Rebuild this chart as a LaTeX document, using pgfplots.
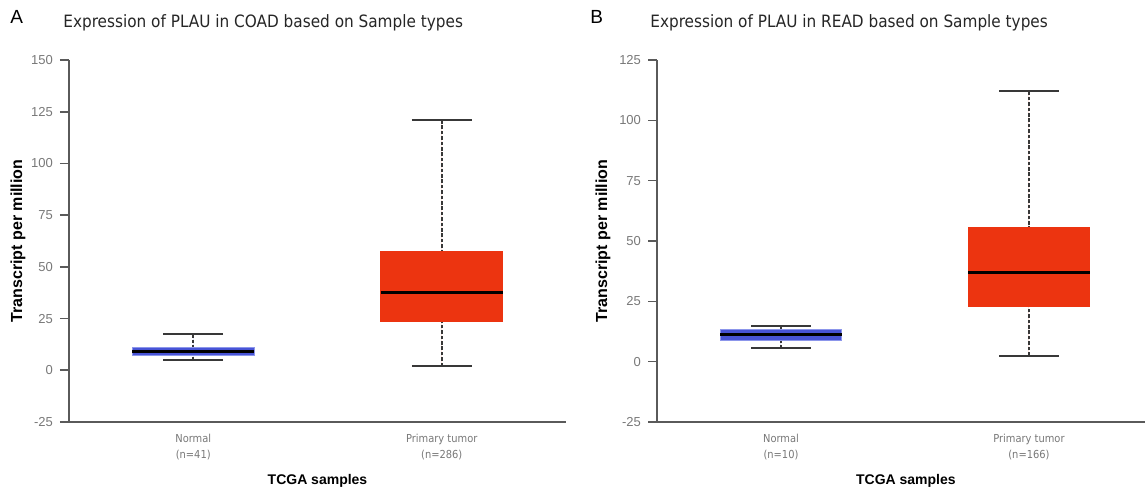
\documentclass[border=0pt]{standalone}
\usepackage{fontspec}
\setmainfont{Liberation Sans}
\newfontfamily\dvc{DejaVu Sans Condensed}
\usepackage{pgfplots}
\pgfplotsset{compat=1.18}
\usepgfplotslibrary{statistics}

\definecolor{tumred}{RGB}{236,52,16}
\definecolor{normblue}{RGB}{72,84,214}
\definecolor{normedge}{RGB}{140,150,235}
\definecolor{axgray}{RGB}{90,90,90}
\definecolor{lblgray}{RGB}{120,120,120}

\pgfplotsset{
  panel/.style={
    scale only axis,
    height=181pt,
    axis lines=left,
    axis line style={-, draw=axgray, line width=0.8pt},
    xmin=0.5, ymin=-25,
    xtick={1,2},
    x tick style={draw=none},
    y tick style={draw=axgray, line width=0.8pt},
    tick align=outside,
    major tick length=4.5pt,
    /pgf/number format/assume math mode=true,
    yticklabel style={font=\fontsize{6.5}{7}\selectfont, text=lblgray},
    xticklabel style={font=\dvc\fontsize{5.5}{8}\selectfont, text=lblgray, align=center, yshift=2pt},
    xlabel={TCGA samples},
    ylabel={Transcript per million},
    xlabel style={font=\bfseries\fontsize{7}{8}\selectfont, anchor=center},
    ylabel style={font=\bfseries\fontsize{8}{9}\selectfont, anchor=center},
    boxplot/draw direction=y,
    boxplot/box extend=0.49,
    boxplot/whisker extend=0.24,
    boxplot/every median/.style={black, line width=1.5pt},
    boxplot/every whisker/.style={draw=black!78, line width=1pt},
    boxplot/draw/lower whisker/.code={%
      \draw[/pgfplots/boxplot/every whisker/.try, dash pattern=on 1.8pt off 0.9pt]
        (boxplot whisker cs:\pgfplotsboxplotvalue{lower whisker},0.5) --
        (boxplot whisker cs:\pgfplotsboxplotvalue{lower quartile},0.5);
      \draw[/pgfplots/boxplot/every whisker/.try]
        (boxplot whisker cs:\pgfplotsboxplotvalue{lower whisker},0) --
        (boxplot whisker cs:\pgfplotsboxplotvalue{lower whisker},1);
    },
    boxplot/draw/upper whisker/.code={%
      \draw[/pgfplots/boxplot/every whisker/.try, dash pattern=on 1.8pt off 0.9pt]
        (boxplot whisker cs:\pgfplotsboxplotvalue{upper whisker},0.5) --
        (boxplot whisker cs:\pgfplotsboxplotvalue{upper quartile},0.5);
      \draw[/pgfplots/boxplot/every whisker/.try]
        (boxplot whisker cs:\pgfplotsboxplotvalue{upper whisker},0) --
        (boxplot whisker cs:\pgfplotsboxplotvalue{upper whisker},1);
    },
  },
  normalbox/.style={fill=normblue, draw=normedge, line width=0.6pt},
  tumorbox/.style={fill=tumred, draw=tumred, line width=0.4pt},
}

\begin{document}
\begin{tikzpicture}
\useasboundingbox (0,0) rectangle (572.5pt,-245pt);

% panel A: COAD
\begin{axis}[panel,
    at={(34.5pt,-211pt)}, anchor=south west,
    width=248.5pt, xmax=2.5, ymax=150,
    ytick={-25,0,25,50,75,100,125,150},
    xticklabels={{Normal\\(n=41)},{Primary tumor\\(n=286)}},
    xlabel style={at={(axis description cs:0.5,-0.163)}},
    ylabel style={at={(axis description cs:-0.1026,0.5)}},
]
\addplot[normalbox, boxplot prepared={draw position=1,
    lower whisker=4.8, lower quartile=7.2, median=9.1,
    upper quartile=11, upper whisker=17.3}] coordinates {};
\addplot[tumorbox, boxplot prepared={draw position=2,
    lower whisker=2, lower quartile=23.6, median=37.5,
    upper quartile=57.7, upper whisker=121}] coordinates {};
\end{axis}

% panel B: READ
\begin{axis}[panel,
    at={(328.5pt,-211pt)}, anchor=south west,
    width=244pt, xmax=2.468, ymax=125,
    ytick={-25,0,25,50,75,100,125},
    xticklabels={{Normal\\(n=10)},{Primary tumor\\(n=166)}},
    xlabel style={at={(axis description cs:0.51,-0.163)}},
    ylabel style={at={(axis description cs:-0.1107,0.5)}},
]
\addplot[normalbox, boxplot prepared={draw position=1,
    lower whisker=5.5, lower quartile=8.75, median=11.2,
    upper quartile=13.3, upper whisker=14.6}] coordinates {};
\addplot[tumorbox, boxplot prepared={draw position=2,
    lower whisker=2.5, lower quartile=23, median=37,
    upper quartile=55.8, upper whisker=112}] coordinates {};
\end{axis}

\node[anchor=base west, inner sep=0, font=\fontsize{9.5}{11}\selectfont] at (5pt,-12pt) {A};
\node[anchor=base west, inner sep=0, font=\fontsize{9.5}{11}\selectfont] at (295pt,-12pt) {B};
\node[anchor=base west, inner sep=0, text=black!85, font=\dvc\fontsize{8.5}{10}\selectfont]
  at (31.5pt,-14pt) {Expression of PLAU in COAD based on Sample types};
\node[anchor=base west, inner sep=0, text=black!85, font=\dvc\fontsize{8.5}{10}\selectfont]
  at (325pt,-14pt) {Expression of PLAU in READ based on Sample types};
\end{tikzpicture}
\end{document}
